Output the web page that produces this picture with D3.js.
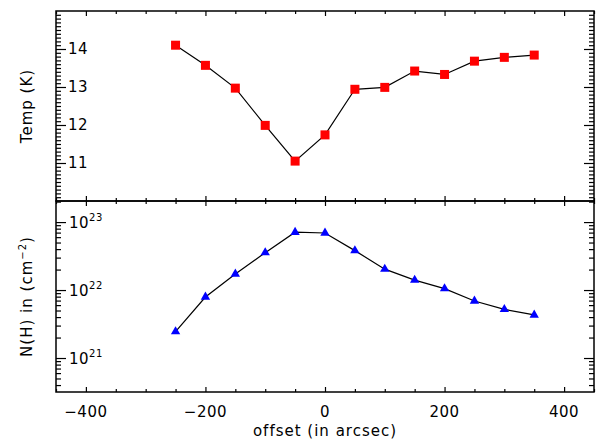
<!DOCTYPE html>
<html>
<head>
<meta charset="utf-8">
<script src="https://cdn.jsdelivr.net/npm/d3@7"></script>
<style>
body { margin: 0; background: #fff; }
text { font-family: "DejaVu Sans", sans-serif; font-size: 15px; fill: #000; letter-spacing: 0.5px; }
text.title { letter-spacing: 1px; }
</style>
</head>
<body>
<div id="chart"></div>
<script>
"use strict";

// offsets along the cut, in arcsec
var offsets = [-250, -200, -150, -100, -50, 0, 50, 100, 150, 200, 250, 300, 350];
// dust temperature (K)
var temps = [14.1, 13.57, 12.97, 11.99, 11.05, 11.74, 12.94, 12.99, 13.42, 13.33, 13.68, 13.78, 13.84];
// column density N(H) (cm^-2)
var columnDensity = [2.45e21, 7.9e21, 1.72e22, 3.55e22, 7.1e22, 6.9e22, 3.8e22, 2.03e22, 1.4e22, 1.05e22, 6.9e21, 5.2e21, 4.3e21];

var xTickValues = [-400, -200, 0, 200, 400];
var tempTickValues = [11, 12, 13, 14];
var densityTickValues = [1e21, 1e22, 1e23];
var densityTickExponents = ["21", "22", "23"];

var width = 600, height = 441;
var left = 56, right = 594;
var topPanel = { top: 11, bottom: 201 };
var botPanel = { top: 201, bottom: 392 };

var svg = d3.select("#chart")
    .append("svg")
    .attr("width", width)
    .attr("height", height);

var x = d3.scaleLinear().domain([-450, 450]).range([left, right]);
var yTemp = d3.scaleLinear().domain([10, 15]).range([topPanel.bottom, topPanel.top]);
var yDens = d3.scaleLog().domain([Math.pow(10, 20.5), Math.pow(10, 23.31)]).range([botPanel.bottom, botPanel.top]);

// tick positions that are not labelled
var xMinor = d3.range(-450, 451, 50).filter(function(d) { return d % 200 !== 0; });
var xMajor = d3.range(-400, 401, 200);
var tempMinor = d3.range(101, 150).map(function(d) { return d / 10; }).filter(function(d) { return d % 1 !== 0; });
var tempMajor = [11, 12, 13, 14];
var densMinor = [];
[20, 21, 22, 23].forEach(function(e) {
    for (var m = 2; m <= 9; m++) {
        var v = m * Math.pow(10, e);
        if (v > yDens.domain()[0] && v < yDens.domain()[1]) densMinor.push(v);
    }
});

function ticks(g, axis, values, len) {
    g.call(axis.tickValues(values).tickSize(-len).tickFormat(""));
    g.select(".domain").remove();
    g.selectAll("line").attr("stroke", "#000").attr("stroke-width", 1.2);
}

function xTicks(panel) {
    var gb = svg.append("g").attr("transform", "translate(0," + panel.bottom + ")");
    ticks(gb.append("g"), d3.axisBottom(x), xMajor, 5);
    ticks(gb.append("g"), d3.axisBottom(x), xMinor, 3);
    var gt = svg.append("g").attr("transform", "translate(0," + panel.top + ")");
    ticks(gt.append("g"), d3.axisTop(x), xMajor, 5);
    ticks(gt.append("g"), d3.axisTop(x), xMinor, 3);
}

function yTicks(scale, major, minor, majorLen, minorLen) {
    var gl = svg.append("g").attr("transform", "translate(" + left + ",0)");
    ticks(gl.append("g"), d3.axisLeft(scale), major, majorLen);
    ticks(gl.append("g"), d3.axisLeft(scale), minor, minorLen);
    var gr = svg.append("g").attr("transform", "translate(" + right + ",0)");
    ticks(gr.append("g"), d3.axisRight(scale), major, majorLen);
    ticks(gr.append("g"), d3.axisRight(scale), minor, minorLen);
}

xTicks(topPanel);
xTicks(botPanel);
yTicks(yTemp, tempMajor, tempMinor, 10, 5);
yTicks(yDens, densityTickValues, densMinor, 10, 5);

// frames
[topPanel, botPanel].forEach(function(p) {
    svg.append("rect")
        .attr("x", left)
        .attr("y", p.top)
        .attr("width", right - left)
        .attr("height", p.bottom - p.top)
        .attr("fill", "none")
        .attr("stroke", "#000")
        .attr("stroke-width", 1.5);
});

// tick labels
svg.append("g").selectAll("text")
    .data(tempTickValues)
    .enter()
    .append("text")
    .attr("x", left + 12)
    .attr("y", function(d) { return yTemp(d); })
    .attr("dy", "0.36em")
    .text(function(d) { return d; });

var densLabels = svg.append("g").selectAll("text")
    .data(densityTickValues)
    .enter()
    .append("text")
    .attr("x", left + 13)
    .attr("y", function(d) { return yDens(d) + 6; });
densLabels.append("tspan").text("10");
densLabels.append("tspan")
    .attr("dy", -7)
    .style("font-size", "10px")
    .text(function(d, i) { return densityTickExponents[i]; });

svg.append("g").selectAll("text")
    .data(xTickValues)
    .enter()
    .append("text")
    .attr("x", function(d) { return x(d); })
    .attr("y", 417)
    .attr("text-anchor", "middle")
    .text(d3.format("d"));

// axis titles
svg.append("text")
    .attr("class", "title")
    .attr("x", (left + right) / 2)
    .attr("y", 436)
    .attr("text-anchor", "middle")
    .text("offset (in arcsec)");

svg.append("text")
    .attr("class", "title")
    .attr("transform", "translate(32," + (topPanel.top + topPanel.bottom) / 2 + ") rotate(-90)")
    .attr("text-anchor", "middle")
    .text("Temp (K)");

var nhTitle = svg.append("text")
    .attr("class", "title")
    .attr("transform", "translate(32," + (botPanel.top + botPanel.bottom) / 2 + ") rotate(-90)")
    .attr("text-anchor", "middle");
nhTitle.append("tspan").text("N(H) in (cm");
nhTitle.append("tspan").attr("dy", -6).style("font-size", "10px").text("\u22122");
nhTitle.append("tspan").attr("dy", 6).text(")");

// temperature series
var tempData = offsets.map(function(d, i) { return { x: d, y: temps[i] }; });
svg.append("path")
    .datum(tempData)
    .attr("fill", "none")
    .attr("stroke", "#000")
    .attr("stroke-width", 1.2)
    .attr("d", d3.line()
        .x(function(d) { return x(d.x); })
        .y(function(d) { return yTemp(d.y); }));

svg.append("g").selectAll("rect")
    .data(tempData)
    .enter()
    .append("rect")
    .attr("x", function(d) { return x(d.x) - 4.5; })
    .attr("y", function(d) { return yTemp(d.y) - 4.5; })
    .attr("width", 9)
    .attr("height", 9)
    .attr("fill", "#ff0000");

// column density series
var densData = offsets.map(function(d, i) { return { x: d, y: columnDensity[i] }; });
svg.append("path")
    .datum(densData)
    .attr("fill", "none")
    .attr("stroke", "#000")
    .attr("stroke-width", 1.2)
    .attr("d", d3.line()
        .x(function(d) { return x(d.x); })
        .y(function(d) { return yDens(d.y); }));

svg.append("g").selectAll("path")
    .data(densData)
    .enter()
    .append("path")
    .attr("transform", function(d) { return "translate(" + x(d.x) + "," + yDens(d.y) + ")"; })
    .attr("d", d3.symbol().type(d3.symbolTriangle).size(38))
    .attr("fill", "#0000ff");
</script>
</body>
</html>
